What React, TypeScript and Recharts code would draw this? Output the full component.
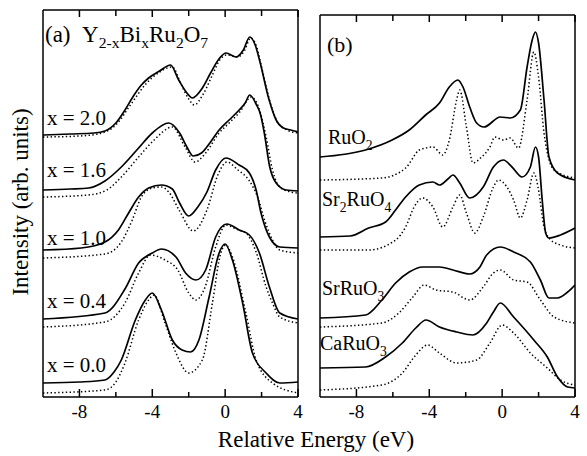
import React from 'react';
import { LineChart, Line, XAxis, YAxis } from 'recharts';

const FONT = '"Liberation Serif", Tinos, "Times New Roman", "DejaVu Serif", serif';

const TICKS = [-8, -6, -4, -2, 0, 2, 4];
const TICK_LABELS = [-8, -4, 0, 4];
const DOMAIN_X: [number, number] = [-10, 4];

// panel (a) Y2-xBixRu2O7 : [energy eV, intensity arb.] (solid = exp, dotted = calc)
const a20Solid = [[-10, 26.2], [-8.5, 26.3], [-7.2, 26.4], [-6.6, 26.6], [-6.0, 27.4], [-5.5, 28.7], [-5.0, 30.2], [-4.6, 31.2], [-4.2, 31.9], [-3.6, 32.6], [-3.0, 33.2], [-2.55, 31.7], [-2.1, 30.4], [-1.8, 29.9], [-1.25, 30.9], [-0.8, 32.4], [-0.3, 33.9], [0.05, 34.4], [0.6, 34.0], [1.0, 34.7], [1.35, 36.0], [1.65, 35.2], [1.9, 33.6], [2.4, 29.8], [2.8, 27.7], [3.2, 26.9], [3.6, 26.7], [4.0, 26.5]];
const a20Dot = [[-10, 26.0], [-8, 26.1], [-7.0, 26.3], [-6.0, 27.2], [-5.2, 29.2], [-4.4, 31.2], [-3.6, 32.5], [-2.9, 33.0], [-2.4, 31.2], [-2.0, 29.8], [-1.7, 29.2], [-1.2, 30.3], [-0.7, 32.2], [-0.3, 33.7], [0.1, 34.2], [0.7, 34.0], [1.05, 34.6], [1.4, 35.9], [1.75, 34.9], [2.0, 33.0], [2.5, 29.3], [2.9, 27.4], [3.4, 26.7], [4.0, 26.4]];
const a16Solid = [[-10, 20.7], [-8.5, 20.8], [-7.5, 20.9], [-6.6, 21.6], [-5.7, 23.0], [-4.75, 24.9], [-4.0, 26.4], [-3.1, 27.4], [-2.5, 26.4], [-2.1, 25.0], [-1.75, 24.1], [-1.3, 24.4], [-0.8, 25.5], [-0.33, 26.7], [0.22, 27.7], [0.77, 28.7], [1.1, 29.4], [1.35, 30.2], [1.7, 29.3], [1.95, 28.2], [2.15, 26.4], [2.45, 23.0], [2.8, 21.4], [3.35, 20.7], [4.0, 20.6]];
const a16Dot = [[-10, 20.0], [-7.5, 20.2], [-6.5, 20.7], [-5.7, 22.0], [-4.75, 24.0], [-3.9, 25.7], [-2.9, 27.0], [-2.2, 25.0], [-1.65, 23.5], [-1.07, 24.4], [-0.33, 26.4], [0.22, 27.4], [0.8, 28.5], [1.43, 30.0], [1.85, 28.9], [2.25, 26.0], [2.6, 22.7], [3.0, 21.0], [3.6, 20.5], [4.0, 20.4]];
const a10Solid = [[-10, 14.7], [-7.9, 14.9], [-6.6, 15.5], [-5.86, 16.7], [-5.3, 18.4], [-4.75, 20.0], [-4.2, 20.9], [-3.5, 21.2], [-2.9, 20.8], [-2.5, 19.4], [-2.0, 18.1], [-1.5, 19.0], [-1.0, 20.5], [-0.52, 22.7], [0.04, 23.9], [0.77, 23.2], [1.33, 22.4], [1.7, 20.7], [1.97, 18.4], [2.43, 16.0], [3.0, 15.0], [4.0, 14.9]];
const a10Dot = [[-10, 13.9], [-6.6, 14.3], [-5.7, 15.5], [-5.1, 17.7], [-4.6, 20.0], [-4.0, 20.9], [-3.5, 21.0], [-3.1, 20.5], [-2.5, 18.6], [-1.75, 16.6], [-1.0, 18.7], [-0.4, 22.2], [0.1, 23.5], [0.7, 22.7], [1.3, 21.7], [1.8, 19.9], [2.2, 17.5], [2.6, 15.7], [3.0, 14.7], [4.0, 14.4]];
const a04Solid = [[-10, 7.8], [-6.6, 8.4], [-5.5, 10.8], [-4.75, 13.4], [-4.0, 14.4], [-3.5, 14.8], [-2.7, 14.0], [-2.17, 12.4], [-1.6, 11.7], [-1.07, 12.7], [-0.52, 16.0], [0.1, 17.3], [0.77, 16.7], [1.33, 16.2], [1.88, 14.4], [2.43, 11.0], [3.0, 8.4], [4.0, 7.8]];
const a04Dot = [[-10, 7.0], [-6.6, 7.5], [-5.5, 9.4], [-4.75, 12.4], [-4.1, 14.2], [-3.3, 13.7], [-2.6, 12.7], [-2.0, 10.4], [-1.6, 9.7], [-1.1, 11.0], [-0.52, 15.0], [0.04, 17.2], [0.6, 16.8], [1.14, 16.4], [1.7, 14.5], [2.25, 11.0], [2.6, 9.4], [3.0, 8.0], [4.0, 7.4]];
const a00Solid = [[-10, 1.4], [-8, 1.5], [-6.6, 1.7], [-6.1, 2.5], [-5.7, 3.7], [-4.93, 7.7], [-4.38, 9.7], [-4.0, 10.4], [-3.5, 8.7], [-2.9, 5.7], [-2.36, 4.7], [-1.9, 4.5], [-1.44, 5.7], [-0.88, 10.0], [-0.33, 14.4], [0.0, 15.3], [0.4, 13.7], [0.96, 9.4], [1.5, 4.4], [2.25, 2.4], [3.0, 1.4], [4.0, 1.5]];
const a00Dot = [[-10, 0.4], [-6.6, 0.7], [-6.0, 1.5], [-5.5, 3.4], [-4.75, 7.7], [-4.2, 9.7], [-3.9, 10.2], [-3.3, 7.4], [-2.7, 4.4], [-2.0, 2.4], [-1.25, 3.7], [-0.7, 9.4], [-0.24, 14.4], [0.04, 15.2], [0.4, 14.0], [1.14, 8.4], [1.7, 3.7], [2.6, 1.4], [4.0, 0.4]];

// panel (b) reference ruthenates
const ruo2Solid = [[-10, 24.0], [-7.5, 24.7], [-6.04, 25.7], [-5.1, 26.7], [-4.2, 28.2], [-3.44, 29.4], [-2.9, 31.0], [-2.43, 31.7], [-2.15, 31.0], [-1.78, 29.0], [-1.4, 27.4], [-1.0, 27.0], [-0.1, 28.0], [0.44, 27.9], [1.0, 28.7], [1.37, 33.0], [1.65, 35.7], [1.83, 36.5], [2.0, 35.4], [2.3, 29.7], [2.57, 24.0], [3.04, 22.4], [4.0, 21.7]];
const ruo2Dot = [[-10, 21.7], [-6.6, 21.9], [-5.3, 22.9], [-4.55, 24.7], [-4.2, 24.9], [-3.8, 25.0], [-3.26, 24.2], [-2.9, 25.7], [-2.5, 29.7], [-2.33, 30.7], [-1.96, 27.0], [-1.6, 23.4], [-1.13, 24.0], [-0.67, 25.0], [-0.4, 26.0], [0.07, 25.7], [0.44, 25.9], [0.9, 24.9], [1.37, 29.7], [1.74, 34.5], [2.0, 32.0], [2.3, 26.4], [2.85, 22.7], [4.0, 21.9]];
const sr2Solid = [[-10, 16.0], [-8.35, 16.1], [-7.33, 16.9], [-6.4, 17.5], [-5.85, 18.7], [-5.3, 20.0], [-4.55, 21.2], [-3.8, 21.5], [-3.44, 21.2], [-2.98, 21.8], [-2.7, 22.2], [-2.33, 21.4], [-1.78, 19.9], [-1.04, 21.0], [-0.48, 23.0], [0.07, 23.7], [0.54, 23.0], [1.09, 22.0], [1.55, 23.0], [1.83, 25.0], [2.0, 24.0], [2.2, 19.7], [2.39, 16.4], [2.57, 15.9], [3.2, 16.2], [4.0, 16.9]];
const sr2Dot = [[-10, 14.7], [-7.33, 14.7], [-5.85, 15.7], [-5.3, 17.0], [-4.83, 19.0], [-4.37, 19.9], [-3.8, 19.0], [-3.26, 17.0], [-2.7, 19.0], [-2.33, 20.2], [-1.96, 18.4], [-1.5, 16.4], [-1.04, 18.0], [-0.48, 21.0], [-0.2, 21.7], [0.26, 21.0], [0.63, 19.7], [1.0, 17.9], [1.37, 19.7], [1.74, 22.4], [2.0, 20.7], [2.3, 17.0], [2.67, 15.7], [3.2, 15.2], [4.0, 14.9]];
const srSolid = [[-10, 7.9], [-7.5, 8.2], [-6.6, 9.7], [-5.85, 11.4], [-5.1, 12.5], [-4.37, 13.0], [-3.44, 13.0], [-2.7, 12.7], [-1.78, 12.3], [-1.22, 13.0], [-0.85, 14.2], [-0.1, 15.0], [0.63, 14.5], [1.55, 13.5], [2.1, 11.7], [2.57, 9.9], [3.04, 9.9], [3.6, 10.5], [4.0, 11.2]];
const srDot = [[-10, 7.0], [-6.6, 7.4], [-5.67, 8.4], [-4.9, 10.0], [-4.28, 11.2], [-3.63, 10.7], [-2.7, 10.5], [-1.78, 9.7], [-1.04, 11.0], [-0.48, 12.4], [-0.1, 12.7], [0.63, 11.7], [1.37, 11.5], [2.1, 9.7], [2.85, 8.0], [4.0, 7.4]];
const caSolid = [[-10, 2.9], [-7.5, 3.0], [-6.4, 4.0], [-5.48, 5.4], [-4.74, 6.9], [-4.18, 7.7], [-3.44, 7.0], [-2.5, 6.5], [-1.6, 6.2], [-0.85, 7.4], [-0.48, 8.5], [-0.1, 9.4], [0.63, 8.0], [1.74, 5.7], [2.48, 4.0], [3.04, 2.0], [3.6, 1.0], [4.0, 0.9]];
const caDot = [[-10, 0.7], [-6.6, 1.2], [-5.48, 2.4], [-4.74, 4.2], [-4.1, 5.2], [-3.44, 4.4], [-2.5, 3.4], [-1.4, 3.7], [-0.67, 5.4], [0.0, 7.2], [0.63, 6.4], [1.55, 4.4], [2.48, 2.9], [3.2, 1.7], [4.0, 1.2]];

const PANEL_A = [a20Solid, a20Dot, a16Solid, a16Dot, a10Solid, a10Dot, a04Solid, a04Dot, a00Solid, a00Dot];
const PANEL_B = [ruo2Solid, ruo2Dot, sr2Solid, sr2Dot, srSolid, srDot, caSolid, caDot];

const toPts = (arr: number[][]) => arr.map(([e, v]) => ({ e, v }));

const AXIS_LINE = { stroke: '#000', strokeWidth: 1.5 };
const txt = { style: { fontFamily: FONT }, fill: '#000' };

const BottomTick = (props: any) => {
  const { x, y, payload } = props;
  const major = TICK_LABELS.includes(payload.value);
  return (
    <g>
      <line x1={x} x2={x} y1={y} y2={y - (major ? 8 : 5)} stroke="#000" strokeWidth={1.5} />
      {major && (
        <text x={x} y={y + 21} textAnchor="middle" fontSize={19} {...txt}>
          {payload.value}
        </text>
      )}
    </g>
  );
};

const TopTick = (props: any) => {
  const { x, y, payload } = props;
  const major = TICK_LABELS.includes(payload.value);
  return <line x1={x} x2={x} y1={y} y2={y + (major ? 7 : 6)} stroke="#000" strokeWidth={1.5} />;
};

// box = plot frame inset; axes take 1px (top/sides) and 30px (bottom)
const Panel = ({ curves, width, box, yMax }: { curves: number[][][]; width: number; box: { top: number; right: number; bottom: number; left: number }; yMax: number }) => (
  <LineChart width={width} height={456} style={{ overflow: 'visible' }}
    margin={{ top: box.top - 1, right: box.right - 1, bottom: box.bottom - 30, left: box.left - 1 }}>
    <XAxis xAxisId="b" type="number" dataKey="e" domain={DOMAIN_X} allowDataOverflow ticks={TICKS}
      height={30} tickSize={0} tickMargin={0} tickLine={false} axisLine={AXIS_LINE} tick={<BottomTick />} interval={0} />
    <XAxis xAxisId="t" orientation="top" type="number" dataKey="e" domain={DOMAIN_X} allowDataOverflow ticks={TICKS}
      height={1} tickSize={0} tickMargin={0} tickLine={false} axisLine={AXIS_LINE} tick={<TopTick />} interval={0} />
    <YAxis yAxisId="l" type="number" domain={[0, yMax]} allowDataOverflow width={1} tick={false} tickLine={false} axisLine={AXIS_LINE} />
    <YAxis yAxisId="r" orientation="right" type="number" domain={[0, yMax]} allowDataOverflow width={1} tick={false} tickLine={false} axisLine={AXIS_LINE} />
    {curves.map((c, i) => {
      const dotted = i % 2 === 1;
      return (
        <Line key={i} xAxisId="b" yAxisId="l" data={toPts(c)} dataKey="v" type="monotone"
          stroke="#000" strokeWidth={dotted ? 1.5 : 1.7} strokeDasharray={dotted ? '1.4 2.4' : undefined}
          dot={false} activeDot={false} isAnimationActive={false} />
      );
    })}
  </LineChart>
);

// chemical formula with subscripts
const Formula = ({ x, y, size, parts }: { x: number; y: number; size: number; parts: [string, boolean][] }) => {
  let shifted = false;
  return (
    <text x={x} y={y} fontSize={size} {...txt}>
      {parts.map(([s, sub], i) => {
        let dy = 0;
        if (sub && !shifted) { dy = size * 0.28; shifted = true; }
        else if (!sub && shifted) { dy = -size * 0.28; shifted = false; }
        return (
          <tspan key={i} dy={dy} fontSize={sub ? size * 0.68 : size}>{s}</tspan>
        );
      })}
    </text>
  );
};

export default function App() {
  return (
    <div style={{ position: 'absolute', left: 0, top: 0, width: 587, height: 456, background: '#fff', fontFamily: FONT }}>
      <div style={{ position: 'absolute', left: 300, top: 0 }}>
        <Panel curves={PANEL_B} width={287} box={{ top: 15, right: 12, bottom: 59, left: 20 }} yMax={38.2} />
      </div>
      <div style={{ position: 'absolute', left: 0, top: 0 }}>
        <Panel curves={PANEL_A} width={312} box={{ top: 10, right: 14, bottom: 59, left: 43 }} yMax={38.7} />
      </div>
      <svg width={587} height={456} style={{ position: 'absolute', left: 0, top: 0, pointerEvents: 'none' }}>
        <Formula x={45} y={42} size={23} parts={[['(a)\u00a0\u00a0Y', false], ['2-x', true], ['Bi', false], ['x', true], ['Ru', false], ['2', true], ['O', false], ['7', true]]} />
        <text x={47} y={125} fontSize={21} {...txt}>x = 2.0</text>
        <text x={47} y={177} fontSize={21} {...txt}>x = 1.6</text>
        <text x={47} y={245} fontSize={21} {...txt}>x = 1.0</text>
        <text x={47} y={308} fontSize={21} {...txt}>x = 0.4</text>
        <text x={47} y={372} fontSize={21} {...txt}>x = 0.0</text>
        <text x={327} y={52} fontSize={22} {...txt}>(b)</text>
        <Formula x={328} y={144} size={20} parts={[['RuO', false], ['2', true]]} />
        <Formula x={322} y={206} size={20} parts={[['Sr', false], ['2', true], ['RuO', false], ['4', true]]} />
        <Formula x={322} y={295} size={20} parts={[['SrRuO', false], ['3', true]]} />
        <Formula x={320} y={350} size={20} parts={[['CaRuO', false], ['3', true]]} />
        <text x={316} y={447} fontSize={23} textAnchor="middle" {...txt}>Relative Energy (eV)</text>
        <text transform="translate(28,202) rotate(-90)" fontSize={23} textAnchor="middle" {...txt}>Intensity (arb. units)</text>
      </svg>
    </div>
  );
}
